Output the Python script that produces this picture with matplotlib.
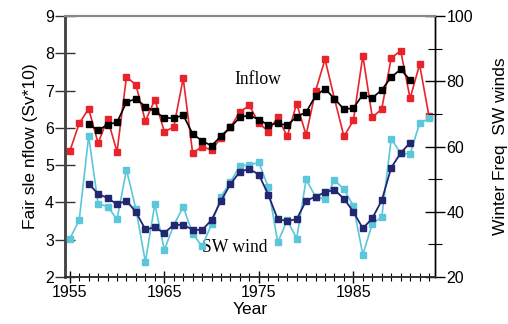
import matplotlib
matplotlib.use("Agg")
import matplotlib.pyplot as plt
from matplotlib.ticker import MultipleLocator, FixedLocator

# ---- data ----
inflow_years = list(range(1955, 1994))
inflow = [5.37, 6.12, 6.51, 5.59, 6.24, 5.36, 7.37, 7.15, 6.18, 6.76,
          5.90, 6.02, 7.33, 5.32, 5.50, 5.40, 5.74, 6.02, 6.43, 6.60,
          6.13, 5.90, 6.29, 5.77, 6.65, 5.81, 6.99, 7.84, 6.78, 5.77,
          6.20, 7.94, 6.28, 6.51, 7.87, 8.07, 6.79, 7.70, 6.31]

smooth_years = list(range(1957, 1992))
inflow_smooth = [6.10, 5.93, 6.09, 6.15, 6.69, 6.78, 6.57, 6.44, 6.27, 6.26,
                 6.34, 5.84, 5.65, 5.52, 5.78, 6.02, 6.28, 6.34, 6.22, 6.08,
                 6.12, 6.07, 6.30, 6.42, 6.86, 7.05, 6.78, 6.50, 6.53, 6.89,
                 6.80, 7.02, 7.36, 7.57, 7.28]

wind_years = list(range(1955, 1994))
wind = [31.7, 37.4, 63.2, 42.4, 41.6, 37.7, 52.9, 40.8, 24.6, 42.4,
        28.3, 35.9, 41.5, 33.3, 29.4, 36.2, 44.6, 49.2, 54.0, 54.4,
        55.1, 47.5, 30.6, 37.4, 31.8, 49.9, 44.6, 43.8, 49.7, 46.9,
        41.8, 26.8, 36.4, 38.3, 62.4, 57.9, 57.7, 67.1, 68.6]

wind_smooth = [48.6, 45.5, 44.2, 42.3, 43.4, 39.9, 34.6, 35.2, 33.5, 36.0,
               36.0, 34.5, 34.4, 37.5, 43.4, 48.5, 52.3, 53.1, 51.4, 45.2,
               37.7, 37.2, 37.7, 43.4, 44.6, 46.0, 46.7, 44.0, 40.0, 34.9,
               38.0, 43.5, 53.5, 58.0, 61.2]

xticks = [1955, 1965, 1975, 1985]

RED = "#e8232b"
BLACK = "#000000"
LBLUE = "#5cc6da"
NAVY = "#232770"

plt.rcParams['font.family'] = ['Liberation Sans', 'DejaVu Sans']

fig = plt.figure(figsize=(5.08, 3.24), dpi=100)
ax = fig.add_axes([0.128, 0.145, 0.7277, 0.8056])
ax2 = ax.twinx()

ax.plot(inflow_years, inflow, color=RED, lw=1.2, marker='s', ms=4.8,
        mec=RED, mfc=RED, zorder=3)
ax.plot(smooth_years, inflow_smooth, color=BLACK, lw=1.2, marker='s', ms=4.8,
        zorder=4)
ax2.plot(wind_years, wind, color=LBLUE, lw=1.2, marker='s', ms=4.8, zorder=3)
ax2.plot(smooth_years, wind_smooth, color=NAVY, lw=1.3, marker='s', ms=4.8,
         zorder=4)

ax.set_xlim(1954.5, 1993.6)
ax.set_ylim(2, 9)
ax2.set_ylim(20, 100)

ax.xaxis.set_major_locator(FixedLocator(xticks))
ax.xaxis.set_minor_locator(MultipleLocator(1))
ax.yaxis.set_major_locator(MultipleLocator(1))
ax2.yaxis.set_major_locator(MultipleLocator(20))
ax2.yaxis.set_minor_locator(MultipleLocator(10))

ax.tick_params(axis='x', which='major', direction='inout', length=8, width=1,
               labelsize=11.5, pad=2)
ax.tick_params(axis='x', which='minor', direction='inout', length=6, width=0.8)
ax.tick_params(axis='y', which='major', direction='inout', length=14, width=1,
               labelsize=11.5, pad=1, color='#333333')
ax2.tick_params(axis='y', which='major', direction='inout', length=15, width=1,
                labelsize=11.5, pad=1)
ax2.tick_params(axis='y', which='minor', direction='inout', length=10, width=0.8)

for a in (ax, ax2):
    a.spines['left'].set_color('#444444')
    a.spines['left'].set_linewidth(1.8)
    a.spines['top'].set_color('#888888')
    a.spines['top'].set_linewidth(1.5)
    a.spines['right'].set_color('black')
    a.spines['right'].set_linewidth(1.0)
    a.spines['bottom'].set_color('#333333')
    a.spines['bottom'].set_linewidth(1.2)

ax.set_xlabel("Year", fontsize=12.5, labelpad=1)
ax.set_ylabel("Fair sle nflow (Sv*10)", fontsize=12.5, labelpad=5)
ax2.set_ylabel("Winter Freq  SW winds", fontsize=12.5, labelpad=14)

ax.text(1974.9, 7.31, "Inflow", family=['Liberation Serif', 'DejaVu Serif'],
        fontsize=12.7, ha='center', va='center', zorder=6)
ax.text(1972.5, 2.78, "SW wind", family=['Liberation Serif', 'DejaVu Serif'],
        fontsize=12.7, ha='center', va='center', zorder=6)

fig.savefig("out.png", dpi=100)
